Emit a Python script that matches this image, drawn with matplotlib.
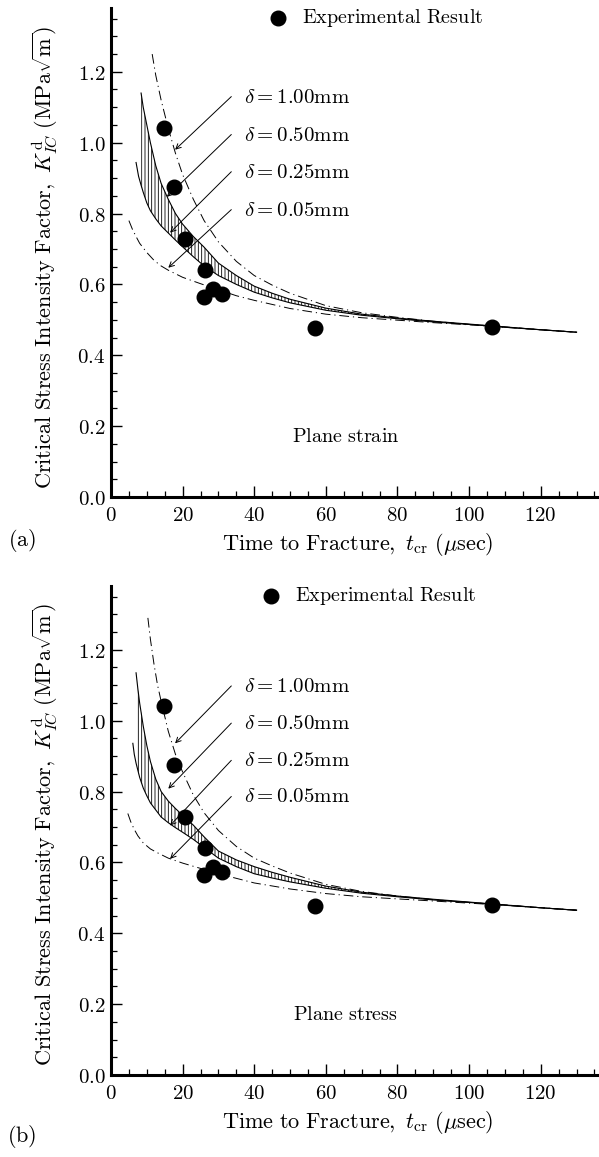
import matplotlib
matplotlib.use("Agg")
import matplotlib.pyplot as plt
from matplotlib.ticker import MultipleLocator, FuncFormatter

plt.rcParams['mathtext.fontset'] = 'cm'
plt.rcParams['hatch.linewidth'] = 0.6

# ---------------- data ----------------
# experimental results (same in both panels)
exp_t = [14.8, 17.6, 20.6, 26.2, 25.9, 28.6, 31.0, 57.0, 106.5]
exp_k = [1.040, 0.875, 0.727, 0.641, 0.565, 0.588, 0.572, 0.477, 0.480]

delta_labels = [r'$\delta = 1.00\mathrm{mm}$', r'$\delta = 0.50\mathrm{mm}$',
                r'$\delta = 0.25\mathrm{mm}$', r'$\delta = 0.05\mathrm{mm}$']

# ---- panel (a): plane strain ----
a_d100_t = [11.5, 12.5, 14, 16, 18, 20, 23, 26, 30, 35, 40, 45, 50, 60, 70, 80, 90, 100, 110, 120, 130]
a_d100_k = [1.25, 1.19, 1.12, 1.04, 0.97, 0.91, 0.84, 0.78, 0.72, 0.665, 0.625, 0.598, 0.575, 0.540, 0.520,
            0.507, 0.496, 0.487, 0.480, 0.472, 0.465]

a_d005_t = [5, 6, 7, 8, 10, 12, 14, 16, 20, 25, 30, 35, 40, 50, 60, 70, 80, 90, 100, 110, 120, 130]
a_d005_k = [0.78, 0.755, 0.735, 0.716, 0.69, 0.668, 0.652, 0.640, 0.620, 0.602, 0.585, 0.568, 0.555, 0.532,
            0.516, 0.506, 0.499, 0.492, 0.486, 0.479, 0.472, 0.465]

a_band_t = [8.4, 9, 10, 11, 12.5, 14, 16, 18, 20, 23, 26, 30, 35, 40, 45, 50, 60, 70, 80, 90, 100, 110, 120, 130]
a_d050_k = [1.14, 1.10, 1.05, 1.00, 0.935, 0.885, 0.84, 0.80, 0.77, 0.735, 0.705, 0.66, 0.625, 0.595, 0.575,
            0.558, 0.533, 0.516, 0.505, 0.496, 0.488, 0.480, 0.472, 0.465]
a_d025_start_t = [7.0, 7.7]
a_d025_start_k = [0.944, 0.905]
a_d025_k = [0.88, 0.86, 0.83, 0.808, 0.785, 0.765, 0.745, 0.725, 0.706, 0.678, 0.652, 0.625, 0.600, 0.578,
            0.562, 0.548, 0.527, 0.513, 0.503, 0.494, 0.487, 0.479, 0.472, 0.465]

# ---- panel (b): plane stress ----
b_d100_t = [10.3, 11, 12, 13, 14, 16, 18, 20, 23, 26, 30, 35, 40, 45, 50, 60, 70, 80, 90, 100, 110, 120, 130]
b_d100_k = [1.29, 1.23, 1.16, 1.10, 1.055, 0.97, 0.905, 0.855, 0.79, 0.74, 0.69, 0.645, 0.612, 0.590, 0.570,
            0.538, 0.518, 0.505, 0.495, 0.487, 0.480, 0.472, 0.465]

b_d005_t = [4.7, 5.5, 6.5, 7.5, 9, 11, 13, 16, 20, 25, 30, 35, 40, 50, 60, 70, 80, 90, 100, 110, 120, 130]
b_d005_k = [0.738, 0.715, 0.693, 0.675, 0.655, 0.638, 0.627, 0.612, 0.598, 0.583, 0.568, 0.555, 0.542, 0.525,
            0.512, 0.503, 0.497, 0.491, 0.485, 0.479, 0.472, 0.465]

b_band_t = [7, 7.5, 8, 9, 10, 11, 12.5, 14, 16, 18, 20, 23, 26, 30, 35, 40, 45, 50, 60, 70, 80, 90, 100, 110, 120, 130]
b_d050_k = [1.135, 1.09, 1.05, 0.985, 0.93, 0.885, 0.835, 0.80, 0.773, 0.752, 0.733, 0.705, 0.672, 0.632, 0.607,
            0.588, 0.572, 0.558, 0.533, 0.516, 0.505, 0.496, 0.488, 0.480, 0.472, 0.465]
b_d025_start_t = [6.1, 6.5]
b_d025_start_k = [0.936, 0.905]
b_d025_k = [0.88, 0.86, 0.84, 0.81, 0.788, 0.768, 0.748, 0.728, 0.712, 0.698, 0.685, 0.665, 0.642, 0.612, 0.588,
            0.568, 0.556, 0.545, 0.527, 0.513, 0.503, 0.494, 0.487, 0.479, 0.472, 0.465]

# label anchor (text) and arrow tip positions, in data units
a_label_k = [1.130, 1.023, 0.918, 0.811]
a_tip = [(17.9, 0.98), (15.6, 0.847), (16.5, 0.746), (16.0, 0.647)]
b_label_k = [1.098, 0.993, 0.888, 0.786]
b_tip = [(17.9, 0.936), (16.0, 0.808), (16.5, 0.704), (16.5, 0.610)]

panels = [
    dict(d100=(a_d100_t, a_d100_k), d005=(a_d005_t, a_d005_k), band_t=a_band_t, d050=a_d050_k,
         d025s=(a_d025_start_t, a_d025_start_k), d025=a_d025_k, lab_k=a_label_k, tips=a_tip,
         title=r'$\mathrm{Plane\ strain}$', leg=(46.6, 1.352), letter='(a)'),
    dict(d100=(b_d100_t, b_d100_k), d005=(b_d005_t, b_d005_k), band_t=b_band_t, d050=b_d050_k,
         d025s=(b_d025_start_t, b_d025_start_k), d025=b_d025_k, lab_k=b_label_k, tips=b_tip,
         title=r'$\mathrm{Plane\ stress}$', leg=(44.6, 1.353), letter='(b)'),
]

# ---------------- figure ----------------
W, H = 599, 1157
fig = plt.figure(figsize=(W / 100, H / 100), dpi=100)

ax_left = 111 / W
ax_w = (598 - 111) / W
ax_bottoms = [(H - 497) / H, (H - 1075) / H]
ax_h = 489 / H

fs_tick = 15
fs_text = 14.5
fs_delta = 15
fs_label = 16
dashdot = (0, (10, 4, 1.2, 4))

def fmt(v, pos):
    return r'$%.1f$' % v if v < 1.35 else ''

def fmtx(v, pos):
    return r'$%d$' % int(round(v)) if v <= 120 else ''

label_ycent = [258, 835]
xlabel_y = [545, 1122]
letter_y = [540, 1137]

for i, p in enumerate(panels):
    ax = fig.add_axes([ax_left, ax_bottoms[i], ax_w, ax_h])
    ax.set_xlim(0, 136)
    ax.set_ylim(0, 1.38)
    for s in ['top', 'right']:
        ax.spines[s].set_visible(False)
    for s in ['left', 'bottom']:
        ax.spines[s].set_linewidth(2.2)

    ax.xaxis.set_major_locator(MultipleLocator(20))
    ax.xaxis.set_minor_locator(MultipleLocator(5))
    ax.yaxis.set_major_locator(MultipleLocator(0.2))
    ax.yaxis.set_minor_locator(MultipleLocator(0.05))
    ax.yaxis.set_major_formatter(FuncFormatter(fmt))
    ax.xaxis.set_major_formatter(FuncFormatter(fmtx))
    ax.tick_params(which='major', direction='in', length=8, width=1.0, labelsize=fs_tick, pad=6)
    ax.tick_params(which='minor', direction='in', length=4, width=0.9)
    ax.tick_params(axis='y', which='major', pad=4)

    # curves
    ax.plot(*p['d100'], color='black', lw=0.7, linestyle=dashdot)
    ax.plot(*p['d005'], color='black', lw=0.7, linestyle=dashdot)
    ax.plot(p['band_t'], p['d050'], color='black', lw=0.8)
    ax.plot(p['d025s'][0] + p['band_t'], p['d025s'][1] + p['d025'], color='black', lw=0.8)
    ax.fill_between(p['band_t'], p['d025'], p['d050'], facecolor='none', edgecolor='black',
                    hatch='|||||', linewidth=0)

    # experimental points
    ax.plot(exp_t, exp_k, 'o', color='black', ms=10.5, zorder=5)

    # legend
    ax.plot([p['leg'][0]], [p['leg'][1]], 'o', color='black', ms=10.5, clip_on=False)
    ax.text(p['leg'][0] + 6.8, p['leg'][1], r'$\mathrm{Experimental\ Result}$', fontsize=fs_text,
            va='center', ha='left')

    # delta labels with arrows
    for lab, lk, tip in zip(delta_labels, p['lab_k'], p['tips']):
        ax.text(37.2, lk, lab, fontsize=fs_delta, va='center', ha='left')
        ax.annotate('', xy=tip, xytext=(33.6, lk - 0.0),
                    arrowprops=dict(arrowstyle='->', lw=0.7, color='black',
                                    shrinkA=0, shrinkB=0, mutation_scale=9))

    ax.text(65.5, 0.17, p['title'], fontsize=fs_text, ha='center', va='center')

    # axis labels
    fig.text(358 / W, 1 - xlabel_y[i] / H,
             r'$\mathrm{Time\ to\ Fracture,}\ t_{\mathrm{cr}}\ (\mu\mathrm{sec})$',
             fontsize=fs_label, ha='center', va='center')
    fig.text(45 / W, 1 - label_ycent[i] / H,
             r'$\mathrm{Critical\ Stress\ Intensity\ Factor,}\ K_{IC}^{\,\mathrm{d}}\ (\mathrm{MPa}\sqrt{\mathrm{m}})$',
             fontsize=fs_label, ha='center', va='center', rotation=90)
    fig.text(22 / W, 1 - letter_y[i] / H, r'$\mathrm{(' + p['letter'][1] + ')}$',
             fontsize=fs_label, ha='center', va='center')

fig.savefig('out.png', dpi=100)
